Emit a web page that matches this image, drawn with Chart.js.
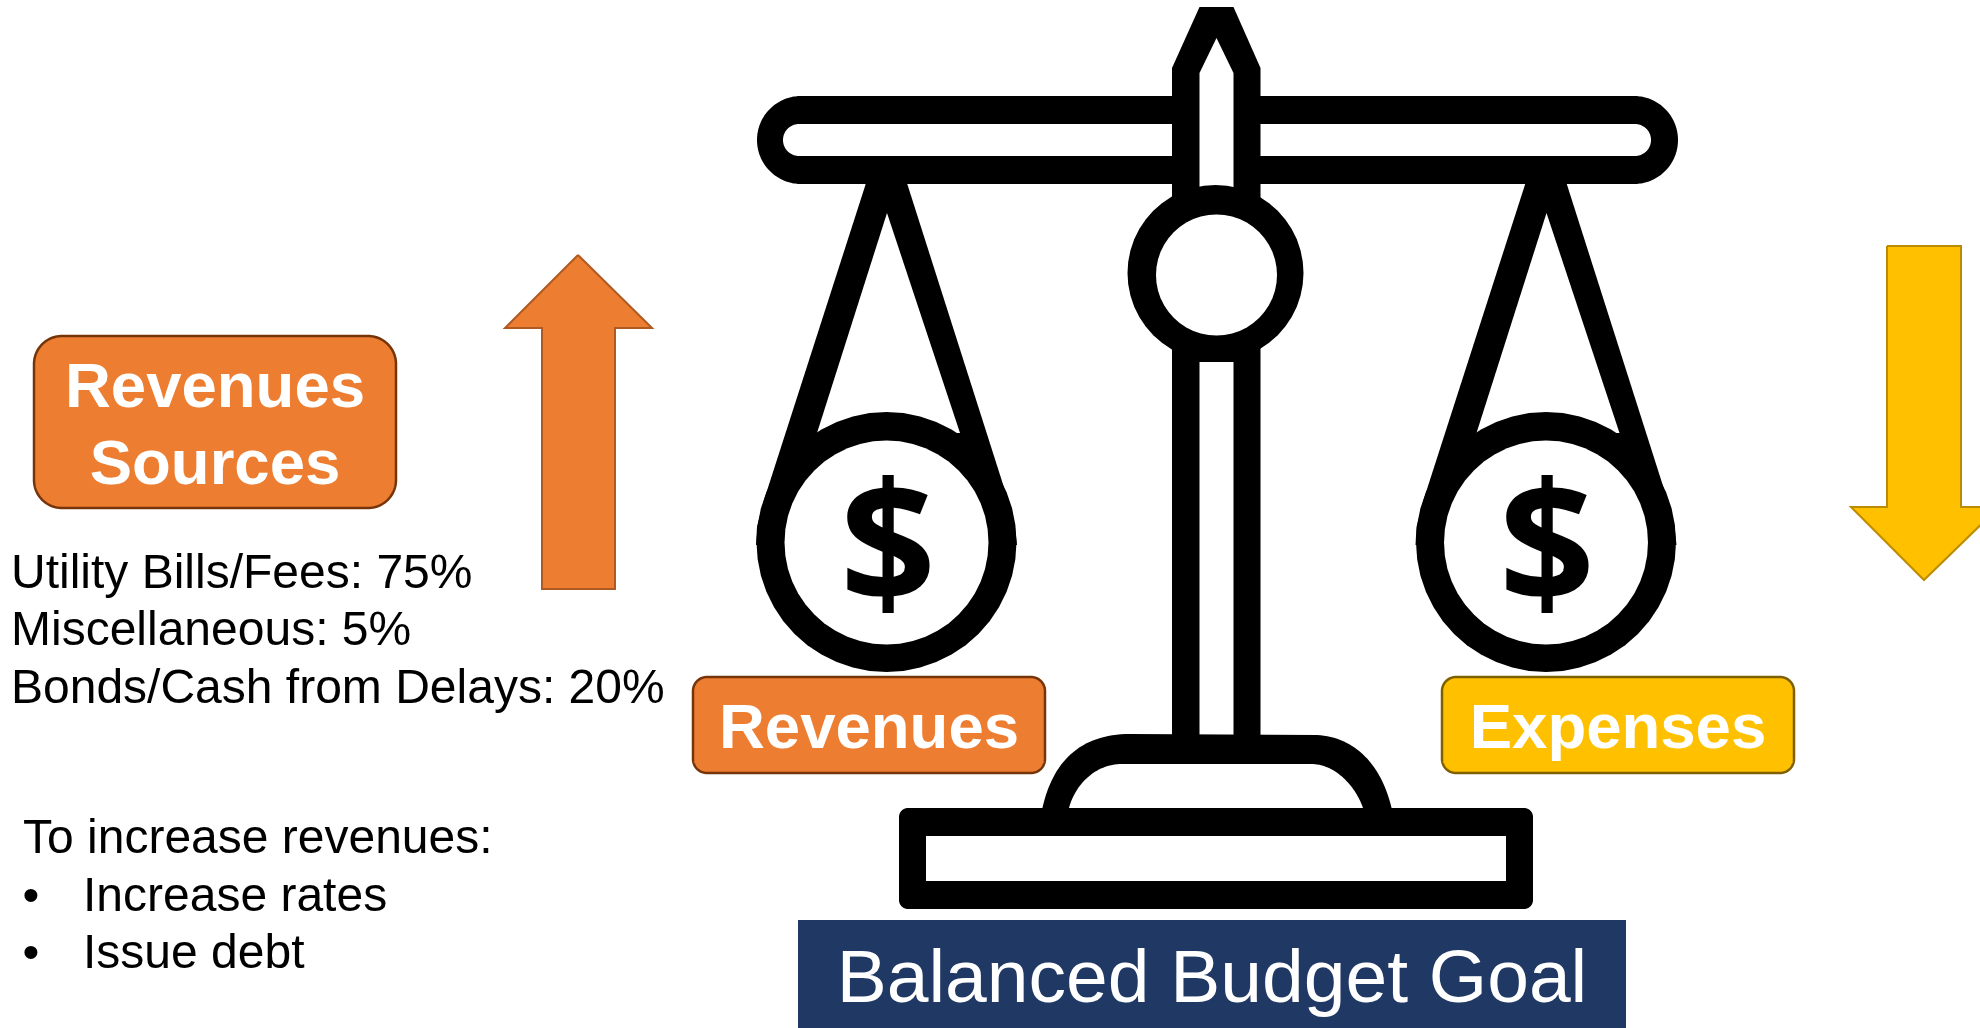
<!DOCTYPE html>
<html>
<head>
<meta charset="utf-8">
<title>Balanced Budget Goal</title>
<script src="https://cdn.jsdelivr.net/npm/chart.js@4/dist/chart.umd.js"></script>
<style>
  html, body { margin: 0; padding: 0; background: #fff; overflow: hidden; }
  canvas { display: block; }
</style>
</head>
<body>
<canvas id="myChart" width="1980" height="1028"></canvas>
<script>
// What the slide says
var revenueSources = ["Utility Bills/Fees", "Miscellaneous", "Bonds/Cash from Delays"];
var revenueShares = [75, 5, 20];
var increaseActions = ["Increase rates", "Issue debt"];
var increaseTitle = "To increase revenues:";
var boxTitle = ["Revenues", "Sources"];
var panLabels = ["Revenues", "Expenses"];
var goalLabel = "Balanced Budget Goal";

// Colours
var orange = "#ED7D31", orangeEdge = "#763509", orangeArrowEdge = "#AE5A21";
var gold = "#FFC000", goldEdge = "#7F6000", goldArrowEdge = "#BC8C00";
var navy = "#1F3864";

// Helpers that turn a shape into points in slide units
function arc(cx, cy, rx, ry, from, to) {
  var pts = [], n = 48;
  for (var i = 0; i <= n; i++) {
    var a = (from + (to - from) * i / n) * Math.PI / 180;
    pts.push({ x: cx + rx * Math.cos(a), y: cy + ry * Math.sin(a) });
  }
  return pts;
}
function circle(cx, cy, r) { return arc(cx, cy, r, r, 0, 360); }
function roundRect(x0, y0, x1, y1, r) {
  return [].concat(
    arc(x0 + r, y0 + r, r, r, 180, 270),
    arc(x1 - r, y0 + r, r, r, 270, 360),
    arc(x1 - r, y1 - r, r, r, 0, 90),
    arc(x0 + r, y1 - r, r, r, 90, 180),
    [{ x: x0, y: y0 + r }]
  );
}
function poly(list) {
  var pts = list.map(function (p) { return { x: p[0], y: p[1] }; });
  pts.push(pts[0]);
  return pts;
}
function bezier(p0, c1, c2, p3) {
  var pts = [], n = 32;
  for (var i = 0; i <= n; i++) {
    var t = i / n, u = 1 - t;
    pts.push({
      x: u * u * u * p0[0] + 3 * u * u * t * c1[0] + 3 * u * t * t * c2[0] + t * t * t * p3[0],
      y: u * u * u * p0[1] + 3 * u * u * t * c1[1] + 3 * u * t * t * c2[1] + t * t * t * p3[1]
    });
  }
  return pts;
}

// One dataset per shape, painted in this order
var shapes = [];
function add(points, fill, edge, edgeWidth) {
  shapes.push({
    data: points,
    showLine: true,
    fill: "shape",
    backgroundColor: fill,
    borderColor: edge || fill,
    borderWidth: edgeWidth || 0,
    // a dash longer than any outline keeps chart.js off its fast path, which chews corners
    borderDash: [100000, 1],
    pointRadius: 0,
    tension: 0,
    clip: false
  });
}

// Pans and their strings
[0, 659.5].forEach(function (dx) {
  add(poly([[867 + dx, 180], [906 + dx, 180], [1008 + dx, 500], [1015 + dx, 527], [1017 + dx, 545], [756 + dx, 545], [757 + dx, 527], [764 + dx, 500]]), "#000");
  add(circle(886.5 + dx, 542, 130), "#000");
  add(poly([[887 + dx, 213], [817 + dx, 433], [960 + dx, 433]]), "#fff");
  add(circle(886.5 + dx, 542, 130).slice(29, 44), "#000");
  add(circle(886.5 + dx, 542.5, 102), "#fff");
});

// Beam
add(roundRect(757, 96, 1678, 184, 44), "#000");
add(roundRect(783, 124, 1651, 156, 16), "#fff");

// Post, finial and hub
add(poly([[1199.5, 7], [1233.5, 7], [1260.5, 68], [1260.5, 745], [1172, 745], [1172, 68]]), "#000");
add(poly([[1216.5, 38], [1233.5, 73], [1233.5, 191], [1199.5, 191], [1199.5, 73]]), "#fff");
add(circle(1215.5, 273, 88), "#000");
add(circle(1216.5, 275, 60.5), "#fff");
add(poly([[1199.5, 362], [1233.5, 362], [1233.5, 736], [1199.5, 736]]), "#fff");

// Foot
add([].concat(
  bezier([1042, 810], [1052, 762], [1080, 734], [1130, 734]),
  bezier([1317, 735], [1355, 737], [1382, 765], [1392, 810])
), "#000");
add([].concat(
  bezier([1069, 808], [1075, 785], [1095, 764], [1122, 764]),
  bezier([1313, 764], [1335, 765], [1355, 785], [1363, 808])
), "#fff");
add(roundRect(899, 808, 1533, 909, 9), "#000");
add(poly([[926, 836], [1506, 836], [1506, 881], [926, 881]]), "#fff");

// Boxes and arrows
add(roundRect(34, 336, 396, 508, 28), orange, orangeEdge, 2.5);
add(roundRect(693, 677, 1045, 773, 14), orange, orangeEdge, 2.5);
add(roundRect(1442, 677, 1794, 773, 14), gold, goldEdge, 2.5);
add(poly([[798, 920], [1626, 920], [1626, 1029], [798, 1029]]), navy);
add(poly([[578, 255], [652, 328], [615, 328], [615, 589], [542, 589], [542, 328], [505, 328]]), orange, orangeArrowEdge, 2);
add(poly([[1887, 246], [1961, 246], [1961, 507], [1999, 507], [1924, 580], [1851, 507], [1887, 507]]), gold, goldArrowEdge, 2);

// Text, placed through the same scales as the shapes
var textLayer = {
  id: "textLayer",
  afterDatasetsDraw: function (chart) {
    var ctx = chart.ctx, sx = chart.scales.x, sy = chart.scales.y;
    function put(str, x, y, font, color, align) {
      ctx.font = font;
      ctx.fillStyle = color;
      ctx.textAlign = align || "left";
      ctx.textBaseline = "alphabetic";
      ctx.fillText(str, sx.getPixelForValue(x), sy.getPixelForValue(y));
    }
    ctx.save();
    var body = "48px 'Liberation Sans'";
    var big = "bold 63.5px 'Liberation Sans'";
    revenueSources.forEach(function (name, i) {
      put(name + ": " + revenueShares[i] + "%", 11, [588, 645, 703][i], body, "#000");
    });
    put(increaseTitle, 23, 853, body, "#000");
    increaseActions.forEach(function (name, i) {
      put("\u2022", 31, [911, 968][i], body, "#000", "center");
      put(name, 83, [911, 968][i], body, "#000");
    });
    put(boxTitle[0], 215, 407, big, "#fff", "center");
    put(boxTitle[1], 215, 484, big, "#fff", "center");
    put(panLabels[0], 869, 748, big, "#fff", "center");
    put(panLabels[1], 1618, 748, big, "#fff", "center");
    put(goalLabel, 1212, 1002, "75px 'Liberation Sans'", "#fff", "center");
    put("$", 888, 603, "bold 168px 'Open Sans'", "#000", "center");
    put("$", 1547, 603, "bold 168px 'Open Sans'", "#000", "center");
    ctx.restore();
  }
};

var ctx = document.getElementById("myChart");
var myChart = new Chart(ctx, {
  type: "scatter",
  data: { datasets: shapes.map(function (s, i) { s.order = -i; return s; }) },
  options: {
    responsive: false,
    animation: false,
    events: [],
    layout: { padding: 0 },
    scales: {
      x: { type: "linear", min: 0, max: 1980, display: false },
      y: { type: "linear", min: 0, max: 1028, reverse: true, display: false }
    },
    plugins: {
      legend: { display: false },
      title: { display: false },
      tooltip: { enabled: false },
      filler: { drawTime: "beforeDatasetDraw", propagate: false }
    }
  },
  plugins: [textLayer]
});
</script>
</body>
</html>
